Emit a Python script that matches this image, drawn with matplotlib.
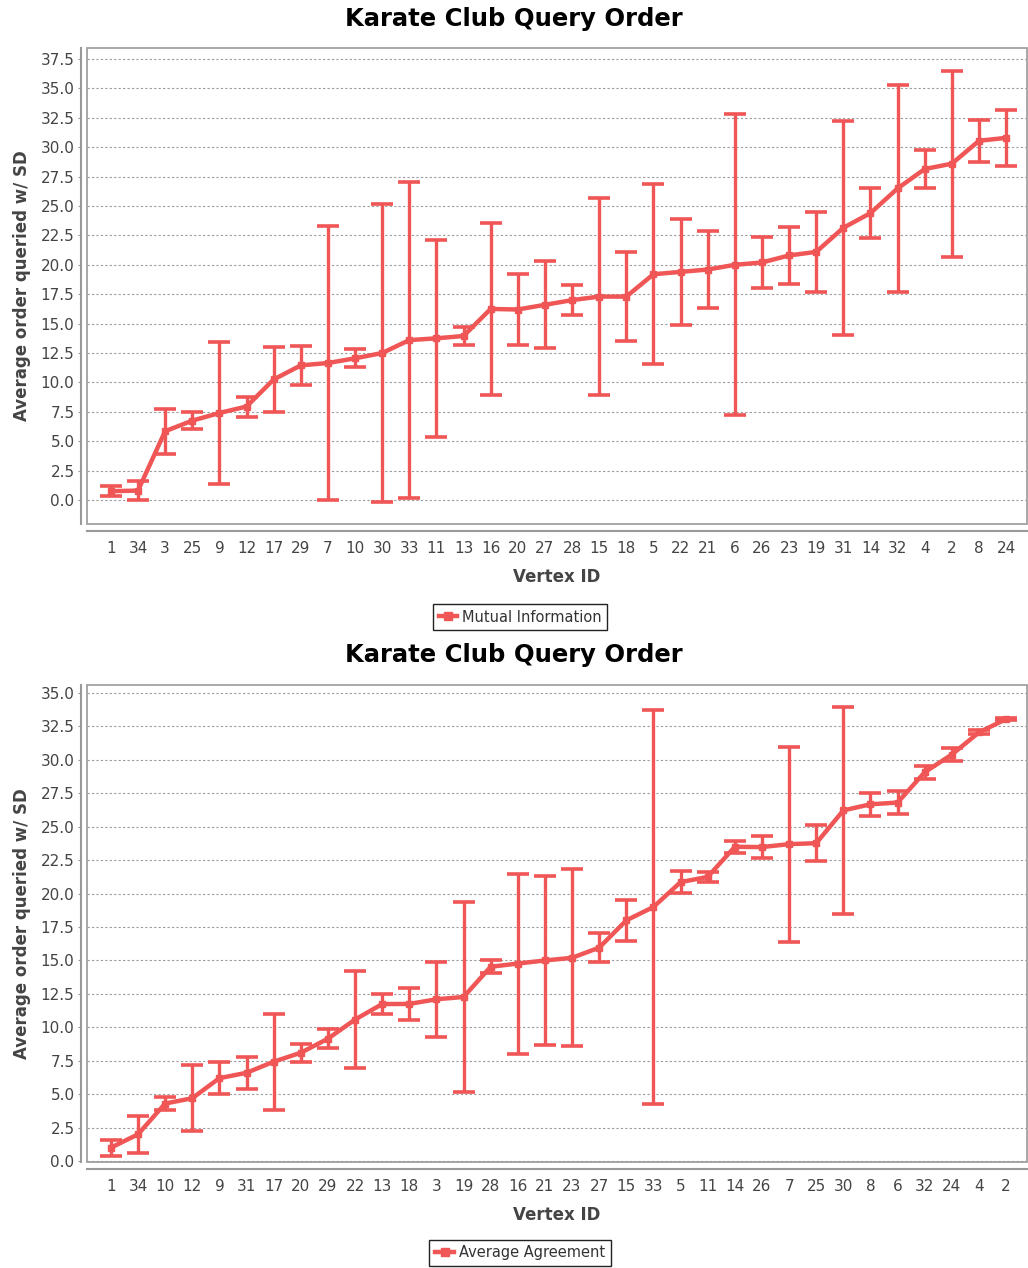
import matplotlib
matplotlib.use("Agg")
import matplotlib.pyplot as plt
from matplotlib.patches import Rectangle
from matplotlib.lines import Line2D
import numpy as np

# ordering of vertices and stats for the mutual information run
mi_vertices = ["1", "34", "3", "25", "9", "12", "17", "29", "7", "10", "30", "33", "11", "13", "16",
               "20", "27", "28", "15", "18", "5", "22", "21", "6", "26", "23", "19", "31", "14", "32",
               "4", "2", "8", "24"]
mi_mean = [0.75, 0.8, 5.85, 6.75, 7.4, 7.95, 10.25, 11.45, 11.65, 12.05, 12.5, 13.6, 13.75, 13.95, 16.25,
           16.2, 16.6, 17.0, 17.3, 17.3, 19.2, 19.4, 19.6, 20.0, 20.2, 20.8, 21.1, 23.15, 24.4, 26.5,
           28.15, 28.6, 30.55, 30.8]
mi_sd = [0.4, 0.8, 1.9, 0.75, 6.05, 0.85, 2.8, 1.65, 11.65, 0.75, 12.7, 13.45, 8.35, 0.75, 7.35,
         3.0, 3.7, 1.3, 8.4, 3.8, 7.65, 4.5, 3.3, 12.8, 2.15, 2.4, 3.4, 9.1, 2.1, 8.8,
         1.65, 7.9, 1.8, 2.4]

# same thing for the average agreement run
aa_vertices = ["1", "34", "10", "12", "9", "31", "17", "20", "29", "22", "13", "18", "3", "19", "28",
               "16", "21", "23", "27", "15", "33", "5", "11", "14", "26", "7", "25", "30", "8", "6",
               "32", "24", "4", "2"]
aa_mean = [1.0, 2.0, 4.3, 4.7, 6.2, 6.6, 7.43, 8.1, 9.15, 10.58, 11.74, 11.75, 12.1, 12.27, 14.53,
           14.77, 15.0, 15.2, 15.96, 18.0, 19.0, 20.86, 21.25, 23.5, 23.48, 23.7, 23.77, 26.22, 26.68, 26.81,
           29.08, 30.4, 32.06, 33.05]
aa_sd = [0.6, 1.4, 0.5, 2.48, 1.2, 1.2, 3.6, 0.67, 0.73, 3.62, 0.76, 1.18, 2.8, 7.1, 0.47,
         6.73, 6.35, 6.63, 1.1, 1.55, 14.73, 0.83, 0.4, 0.47, 0.8, 7.3, 1.35, 7.74, 0.85, 0.83,
         0.5, 0.48, 0.14, 0.1]

RED = "#f05656"
W, H = 1028, 1268


def draw_panel(fig, rect_px, names, mean, sd, ylim, yticks, label, title_y, legend_y):
    left, top, right, bottom = rect_px
    ax = fig.add_axes([left / W, 1 - bottom / H, (right - left) / W, (bottom - top) / H])
    x = np.arange(len(names))
    ax.errorbar(x, mean, yerr=sd, fmt="-s", color=RED, lw=3.2, ms=4,
                elinewidth=2.4, capsize=8, capthick=2.6, zorder=3)
    ax.set_xlim(-0.88, len(names) - 1 + 0.77)
    ax.set_ylim(*ylim)
    ax.set_yticks(yticks)
    ax.set_yticklabels([f"{v:.1f}" for v in yticks])
    ax.set_xticks(x)
    ax.set_xticklabels(names)
    ax.yaxis.grid(True, color="#9a9a9a", lw=0.8, linestyle=(0, (2, 2)))
    ax.set_axisbelow(True)

    # plot outline plus offset axis lines
    for s in ["top", "right"]:
        ax.spines[s].set_visible(False)
    ax.add_patch(Rectangle((0, 0), 1, 1, transform=ax.transAxes, fill=False,
                           ec="#999999", lw=1.2, clip_on=False, zorder=5))
    ax.spines["left"].set_position(("outward", 4))
    ax.spines["bottom"].set_position(("outward", 5))
    for s in ["left", "bottom"]:
        ax.spines[s].set_color("#999999")
        ax.spines[s].set_linewidth(1.5)
    ax.tick_params(axis="y", length=2, color="#999999", labelsize=11, labelcolor="#444444", pad=3)
    ax.tick_params(axis="x", length=0, labelsize=11, labelcolor="#444444", pad=7)

    ax.set_xlabel("Vertex ID", fontsize=12, fontweight="bold", color="#444444", labelpad=9)
    ax.set_ylabel("Average order queried w/ SD", fontsize=12, fontweight="bold", color="#444444",
                  labelpad=7)
    fig.text(0.5, 1 - title_y / H, "Karate Club Query Order", ha="center", va="center",
             fontsize=17.5, fontweight="bold")

    handle = Line2D([], [], color=RED, lw=3.2, marker="s", ms=6)
    ax.legend([handle], [label], loc="center", bbox_to_anchor=(520 / W, 1 - legend_y / H),
              bbox_transform=fig.transFigure, fontsize=10.5, frameon=True, fancybox=False,
              edgecolor="#222222", framealpha=1, handlelength=1.3, handletextpad=0.3,
              borderpad=0.4, labelcolor="#333333")
    return ax


fig = plt.figure(figsize=(W / 100, H / 100), dpi=100)

draw_panel(fig, (87, 48, 1027, 524), mi_vertices, mi_mean, mi_sd,
           (-2.04, 38.44), np.arange(0, 37.6, 2.5), "Mutual Information", 19, 617)
draw_panel(fig, (87, 685, 1027, 1162), aa_vertices, aa_mean, aa_sd,
           (-0.07, 35.6), np.arange(0, 35.1, 2.5), "Average Agreement", 655, 1253)

fig.savefig("out.png", dpi=100)
